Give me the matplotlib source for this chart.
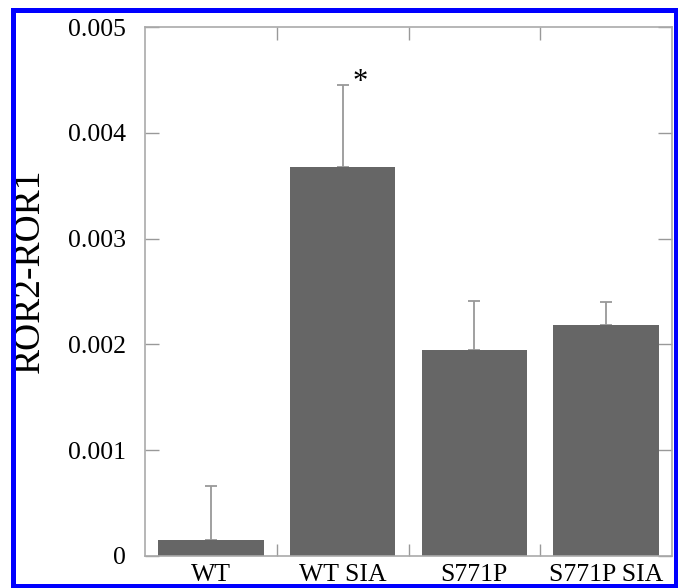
# Bar chart of ROR2-ROR1 for WT / S771P with and without SIA
import matplotlib.pyplot as plt
from matplotlib.patches import Rectangle

groups = ["WT", "WT SIA", "S771P", "S771P SIA"]
values = [0.00015, 0.00368, 0.00195, 0.00218]
errors = [0.00051, 0.00077, 0.00046, 0.00022]

plt.rcParams['font.family'] = ['Liberation Serif', 'DejaVu Serif']

fig = plt.figure(figsize=(6.78, 5.88), dpi=100)
ax = fig.add_axes([145 / 678, 1 - 556 / 588, 527 / 678, 529 / 588])

x = list(range(len(groups)))
ax.bar(x, values, width=0.8, color="#666666", zorder=2)
ax.errorbar(x, values, yerr=[[0] * len(values), errors], fmt='none',
            ecolor="#999999", elinewidth=1.3, capsize=4, capthick=1.3, zorder=1)
ax.text(1.13, 0.00448, "*", fontsize=22, ha='center', va='center')

ax.set_xlim(-0.5, 3.5)
ax.set_ylim(0, 0.005)
ax.set_yticks([0, 0.001, 0.002, 0.003, 0.004, 0.005])
ax.set_yticklabels(["0", "0.001", "0.002", "0.003", "0.004", "0.005"])
ax.set_xticks(x)
ax.set_xticklabels(groups)
ax.set_xticks([0.5, 1.5, 2.5], minor=True)
ax.set_ylabel("ROR2-ROR1", fontsize=27, va='center')
ax.yaxis.set_label_coords(-0.218, 0.54)

ax.tick_params(axis='x', which='major', length=0, labelsize=18.5, pad=6)
ax.tick_params(axis='x', which='minor', direction='in', length=9, width=1,
               color="#999999", top=True, bottom=True)
ax.tick_params(axis='y', direction='in', length=10, width=1, color="#999999",
               left=True, right=True, labelsize=18.5, pad=14)
for s in ax.spines.values():
    s.set_color("#aaaaaa")
    s.set_linewidth(1.2)

# blue frame around the figure
fig.patches.append(Rectangle((12.5 / 678, 2.5 / 588), 663 / 678, 576 / 588,
                             transform=fig.transFigure, fill=False,
                             edgecolor="#0000ff", linewidth=3.6, zorder=10))

fig.savefig("out.png", dpi=100)
